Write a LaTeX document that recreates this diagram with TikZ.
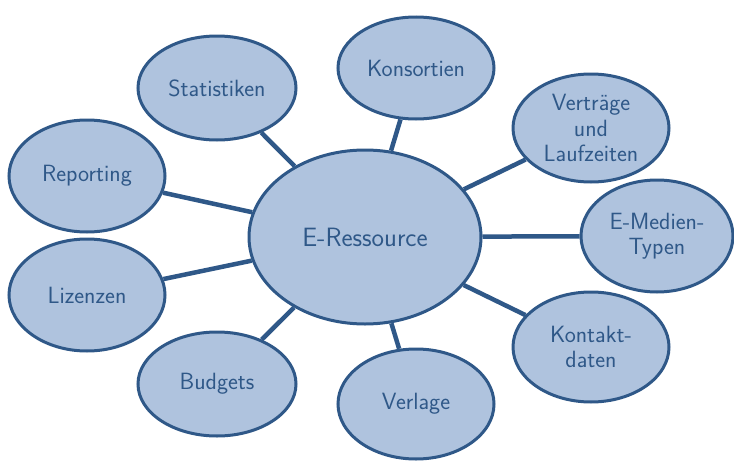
\documentclass[tikz,border=0pt]{standalone}
\usetikzlibrary{shapes.geometric}
\definecolor{edgeblue}{HTML}{2F5888}
\definecolor{fillblue}{HTML}{AFC3DE}
\begin{document}
\begin{tikzpicture}[x=1pt,y=-1pt,
  bubble/.style={ellipse, draw=edgeblue, fill=fillblue, line width=3pt, inner sep=0pt,
    text=edgeblue, align=center, font=\sffamily\fontsize{23.5}{25.5}\selectfont},
  link/.style={draw=edgeblue, line width=4.5pt}]
\useasboundingbox (0,0) rectangle (734,463);
\node[bubble, minimum width=232, minimum height=174, font=\sffamily\fontsize{26.5}{30}\selectfont] (c) at (365,237) {E-Ressource};
\node[bubble, minimum width=156, minimum height=102] (kons) at (416,68) {Konsortien};
\node[bubble, minimum width=158, minimum height=104] (stat) at (217,88) {Statistiken};
\node[bubble, minimum width=156, minimum height=108] (vert) at (591,128) {Verträge\\und\\Laufzeiten};
\node[bubble, minimum width=152, minimum height=112] (emed) at (657,236) {E-Medien-\\Typen};
\node[bubble, minimum width=156, minimum height=110] (kont) at (591,347) {Kontakt-\\daten};
\node[bubble, minimum width=156, minimum height=110] (verl) at (416,404) {Verlage};
\node[bubble, minimum width=158, minimum height=104] (budg) at (217,384) {Budgets};
\node[bubble, minimum width=156, minimum height=112] (repo) at (87,176) {Reporting};
\node[bubble, minimum width=156, minimum height=112] (liz) at (87,295) {Lizenzen};
\foreach \n in {kons,stat,vert,emed,kont,verl,budg,repo,liz}
  \draw[link] (c) -- (\n);
\end{tikzpicture}
\end{document}
